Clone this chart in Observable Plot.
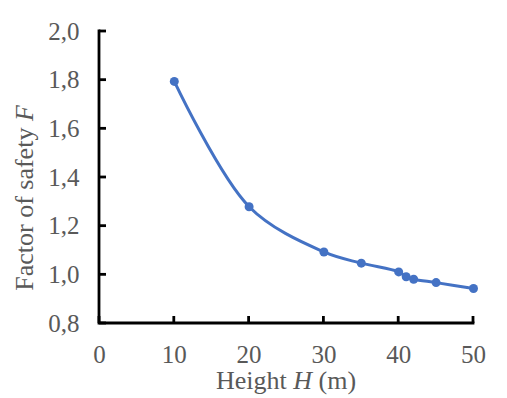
<!DOCTYPE html>
<html>
<head>
<meta charset="utf-8">
<script src="https://cdn.jsdelivr.net/npm/d3@7"></script>
<script src="https://cdn.jsdelivr.net/npm/@observablehq/plot@0.6"></script>
<style>
  html, body { margin: 0; padding: 0; background: #fff; }
  svg text { font-family: "Liberation Serif", "Times New Roman", serif !important; }
</style>
</head>
<body>
<div id="chart"></div>
<script>
const heights = [10, 20, 30, 35, 40, 41, 42, 45, 50];
const factors = [1.795, 1.28, 1.094, 1.048, 1.012, 0.992, 0.982, 0.968, 0.944];
const xTicks = [0, 10, 20, 30, 40, 50];
const yTicks = [0.8, 1.0, 1.2, 1.4, 1.6, 1.8, 2.0];

const data = heights.map((h, i) => ({h, f: factors[i]}));
const font = "Liberation Serif";
const blue = "#4472C4";

const chart = Plot.plot({
  width: 507,
  height: 398,
  marginLeft: 99,
  marginRight: 34,
  marginTop: 31,
  marginBottom: 75,
  style: {fontFamily: font, background: "#fff"},
  x: {domain: [0, 50]},
  y: {domain: [0.8, 2.0]},
  marks: [
    Plot.axisX(xTicks, {tickSize: 0, tickPadding: 22, fontSize: 25, fontFamily: font, fill: "#595959", label: null}),
    Plot.axisY(yTicks, {tickSize: 0, tickPadding: 20, fontSize: 25, fontFamily: font, fill: "#595959", label: null,
      tickFormat: d => d.toFixed(1).replace(".", ",")}),
    Plot.line(data, {x: "h", y: "f", curve: "catmull-rom", stroke: blue, strokeWidth: 3}),
    Plot.dot(data, {x: "h", y: "f", r: 4.5, fill: blue})
  ]
});

const svg = d3.select(chart);
const sx = chart.scale("x"), sy = chart.scale("y");
const X0 = sx.apply(0), Y0 = sy.apply(0.8);
const axes = svg.append("g").attr("stroke", "#000").attr("stroke-width", 2.8).attr("fill", "none");
axes.append("path").attr("d", `M${X0},${sy.apply(2.0)}V${Y0}H${sx.apply(50)}`).attr("stroke-linecap", "square");
yTicks.forEach(t => axes.append("line").attr("x1", X0).attr("x2", X0 + 7).attr("y1", sy.apply(t)).attr("y2", sy.apply(t)));
xTicks.forEach(t => axes.append("line").attr("x1", sx.apply(t)).attr("x2", sx.apply(t)).attr("y1", Y0).attr("y2", Y0 - 7));

// y axis title
const yt = svg.append("text")
  .attr("transform", "translate(33,198) rotate(-90)")
  .attr("text-anchor", "middle")
  .attr("font-family", font)
  .attr("font-size", 26)
  .attr("fill", "#595959");
yt.append("tspan").text("Factor of safety ");
yt.append("tspan").attr("font-style", "italic").text("F");
// x axis title
const xt = svg.append("text")
  .attr("x", 286).attr("y", 389)
  .attr("text-anchor", "middle")
  .attr("font-family", font)
  .attr("font-size", 26)
  .attr("fill", "#595959");
xt.append("tspan").text("Height ");
xt.append("tspan").attr("font-style", "italic").text("H");
xt.append("tspan").text(" (m)");

document.getElementById("chart").appendChild(chart);
</script>
</body>
</html>
